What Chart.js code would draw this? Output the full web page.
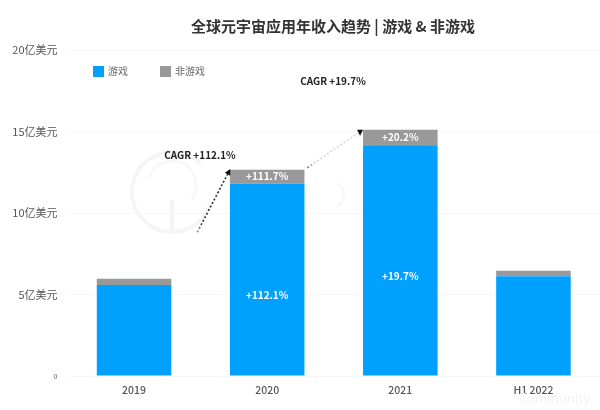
<!DOCTYPE html>
<html>
<head>
<meta charset="utf-8">
<script src="https://cdn.jsdelivr.net/npm/chart.js@4"></script>
<style>
html, body { margin: 0; padding: 0; background: #fff; }
canvas { display: block; }
</style>
</head>
<body>
<canvas id="revenue-chart" width="600" height="410"></canvas>
<script>
const categories = ["2019", "2020", "2021", "H1 2022"];
const gameRevenue = [5.58, 11.8, 14.15, 6.12];
const nonGameRevenue = [0.38, 0.86, 0.95, 0.34];
const gameLabels = ["", "+112.1%", "+19.7%", ""];
const nonGameLabels = ["", "+111.7%", "+20.2%", ""];
const seriesNames = ["游戏", "非游戏"];
const titleText = "全球元宇宙应用年收入趋势 | 游戏 & 非游戏";
const cagrLabels = ["CAGR +112.1%", "CAGR +19.7%"];

const fontFamily = '"Noto Sans CJK SC", "Noto Sans", sans-serif';
const textColor = "#555";

function drawDotted(ctx, x1, y1, x2, y2, startAt, colorFrom, colorTo) {
    const sx = x1 + (x2 - x1) * startAt;
    const sy = y1 + (y2 - y1) * startAt;
    const grad = ctx.createLinearGradient(sx, sy, x2, y2);
    grad.addColorStop(0, colorFrom);
    grad.addColorStop(0.15, colorTo);
    grad.addColorStop(1, colorTo);
    ctx.save();
    ctx.strokeStyle = grad;
    ctx.lineWidth = 1.6;
    ctx.setLineDash([2, 2]);
    ctx.beginPath();
    ctx.moveTo(sx, sy);
    ctx.lineTo(x2, y2);
    ctx.stroke();
    ctx.restore();
}

function drawHead(ctx, x, y, angle) {
    ctx.save();
    ctx.translate(x, y);
    ctx.rotate(angle);
    ctx.fillStyle = "#111";
    ctx.beginPath();
    ctx.moveTo(3, 0);
    ctx.lineTo(-3, -3);
    ctx.lineTo(-3, 3);
    ctx.closePath();
    ctx.fill();
    ctx.restore();
}

const watermark = {
    id: "watermark",
    beforeDatasetsDraw(chart) {
        const ctx = chart.ctx;
        ctx.save();
        ctx.strokeStyle = "#f5f5f5";
        ctx.lineWidth = 4;
        ctx.beginPath();
        ctx.arc(172, 192, 40, 0.1 * Math.PI, 1.75 * Math.PI);
        ctx.stroke();
        ctx.lineWidth = 3;
        ctx.strokeStyle = "#f8f8f8";
        ctx.beginPath();
        ctx.arc(172, 185, 24, 1.1 * Math.PI, 0.2 * Math.PI);
        ctx.stroke();
        ctx.lineWidth = 5;
        ctx.strokeStyle = "#f5f5f5";
        ctx.beginPath();
        ctx.moveTo(172, 200);
        ctx.lineTo(172, 230);
        ctx.stroke();
        ctx.lineWidth = 3;
        ctx.strokeStyle = "#f8f8f8";
        ctx.beginPath();
        ctx.arc(332, 195, 12, -0.4 * Math.PI, 0.4 * Math.PI);
        ctx.stroke();
        ctx.fillStyle = "#f3f3f3";
        ctx.font = "13px " + fontFamily;
        ctx.textAlign = "right";
        ctx.textBaseline = "middle";
        ctx.fillText("Community", 590, 398);
        ctx.restore();
    }
};

const annotations = {
    id: "annotations",
    afterDatasetsDraw(chart) {
        const ctx = chart.ctx;
        const gameBars = chart.getDatasetMeta(0).data;
        const nonGameBars = chart.getDatasetMeta(1).data;

        ctx.save();
        ctx.textAlign = "center";
        ctx.textBaseline = "middle";

        // labels inside the bars
        ctx.fillStyle = "#fff";
        ctx.font = "bold 10px " + fontFamily;
        gameBars.forEach((bar, i) => {
            if (gameLabels[i]) ctx.fillText(gameLabels[i], bar.x, (bar.y + bar.base) / 2 + 16);
        });
        nonGameBars.forEach((bar, i) => {
            if (nonGameLabels[i]) ctx.fillText(nonGameLabels[i], bar.x, (bar.y + bar.base) / 2);
        });

        // CAGR arrows, from bar top to bar top
        const tops = nonGameBars.map(bar => ({ l: bar.x - bar.width / 2, r: bar.x + bar.width / 2, y: bar.y }));
        drawDotted(ctx, tops[0].r, tops[0].y + 3, tops[1].l - 1, tops[1].y + 2, 0.45, "#999", "#333");
        drawHead(ctx, tops[1].l - 1, tops[1].y + 2, -1.08);
        drawDotted(ctx, tops[1].r, tops[1].y, tops[2].l - 3, tops[2].y + 2, 0.05, "#777", "#d8d8d8");
        drawHead(ctx, tops[2].l - 3, tops[2].y + 3, Math.PI / 2);

        ctx.fillStyle = "#222";
        ctx.font = "bold 10px " + fontFamily;
        ctx.fillText(cagrLabels[0], 200, 155);
        ctx.fillText(cagrLabels[1], 333, 81);

        // title
        ctx.fillStyle = "#333";
        ctx.font = "bold 15px " + fontFamily;
        ctx.fillText(titleText, 333, 26);

        // legend
        ctx.textAlign = "left";
        ctx.font = "10px " + fontFamily;
        [93, 160].forEach((x, i) => {
            ctx.fillStyle = chart.data.datasets[i].backgroundColor;
            ctx.fillRect(x, 66, 11, 11);
            ctx.fillStyle = "#666";
            ctx.fillText(seriesNames[i], x + 15, 71);
        });
        ctx.restore();
    }
};

new Chart(document.getElementById("revenue-chart"), {
    type: "bar",
    data: {
        labels: categories,
        datasets: [
            { label: seriesNames[0], data: gameRevenue, backgroundColor: "#00A0FF" },
            { label: seriesNames[1], data: nonGameRevenue, backgroundColor: "#999999" }
        ]
    },
    plugins: [watermark, annotations],
    options: {
        responsive: false,
        animation: false,
        layout: { padding: { top: 50 } },
        categoryPercentage: 1,
        barPercentage: 0.56,
        plugins: {
            legend: { display: false },
            title: { display: false },
            tooltip: { enabled: false }
        },
        scales: {
            x: {
                stacked: true,
                afterFit(scale) { scale.height = 34; },
                grid: { display: false },
                border: { display: false },
                ticks: {
                    color: textColor,
                    padding: 0,
                    font: { family: fontFamily, size: 10.5, weight: "500" }
                }
            },
            y: {
                stacked: true,
                min: 0,
                max: 20,
                afterFit(scale) { scale.width = 67.5; },
                border: { display: false },
                grid: { color: "#f7f7f7", drawTicks: false },
                ticks: {
                    stepSize: 5,
                    color: textColor,
                    padding: 10,
                    font: ctx => ({ family: fontFamily, size: ctx.tick && ctx.tick.value === 0 ? 7 : 11 }),
                    callback: v => (v === 0 ? "0" : v + "亿美元")
                }
            }
        }
    }
});
</script>
</body>
</html>
